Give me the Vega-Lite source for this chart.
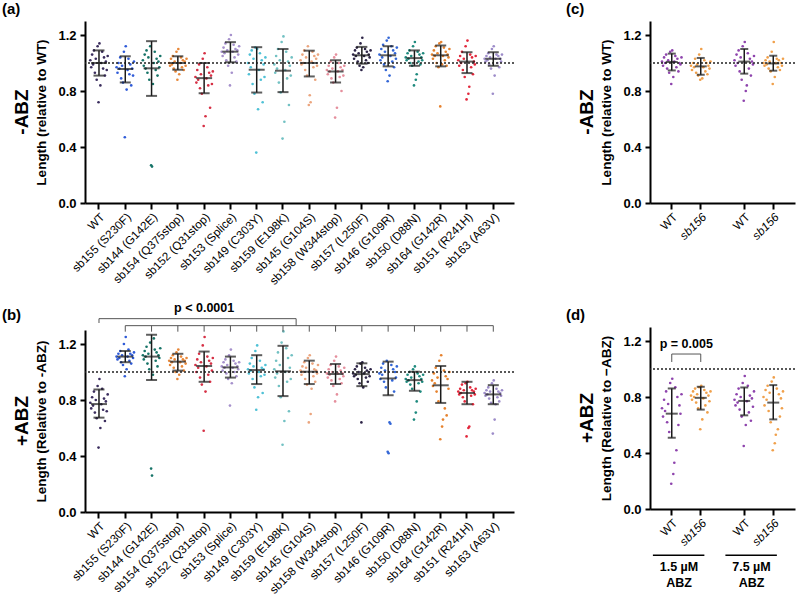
{
"$schema":"https://vega.github.io/schema/vega-lite/v6.json",
"padding":{"left":1,"top":2,"right":0,"bottom":0},
"config":{
 "view":{"stroke":null},
 "font":"Liberation Sans",
 "axis":{"domainColor":"#000","domainWidth":2,"tickColor":"#000","tickWidth":2,"grid":false,"labelColor":"#000","titleColor":"#000","labelFont":"Liberation Sans","titleFont":"Liberation Sans"},
 "axisX":{"labelAngle":-45,"labelFontSize":11.7,"tickSize":6,"labelPadding":2,"labelFontWeight":"normal"},
 "axisY":{"labelFontSize":13,"labelFontWeight":"bold","tickSize":5,"labelPadding":4,"titleFontSize":13.5,"titleFontWeight":"bold","titlePadding":9,"labelOverlap":false},
 "title":{"font":"Liberation Sans","fontWeight":"bold","color":"#000","anchor":"start","fontSize":15,"offset":0}
},
"datasets":{
"a":[
{"g":0,"v":1.02},{"g":0,"v":0.97},{"g":0,"v":1.06},{"g":0,"v":0.99},{"g":0,"v":1.09},{"g":0,"v":0.93},{"g":0,"v":1.03},{"g":0,"v":0.88},{"g":0,"v":1.12},{"g":0,"v":0.72},{"g":0,"v":1.14},{"g":0,"v":0.84},{"g":0,"v":1.00},{"g":0,"v":1.08},{"g":0,"v":0.96},{"g":0,"v":1.04},{"g":0,"v":0.91},{"g":0,"v":1.01},{"g":0,"v":0.95},{"g":0,"v":1.05},
{"g":1,"v":0.97},{"g":1,"v":0.93},{"g":1,"v":1.00},{"g":1,"v":0.96},{"g":1,"v":1.04},{"g":1,"v":0.89},{"g":1,"v":0.98},{"g":1,"v":0.86},{"g":1,"v":1.08},{"g":1,"v":0.47},{"g":1,"v":1.12},{"g":1,"v":0.81},{"g":1,"v":0.95},{"g":1,"v":1.03},{"g":1,"v":0.92},{"g":1,"v":0.99},{"g":1,"v":0.84},{"g":1,"v":0.96},{"g":1,"v":0.91},{"g":1,"v":1.01},
{"g":2,"v":1.02},{"g":2,"v":0.98},{"g":2,"v":1.06},{"g":2,"v":0.96},{"g":2,"v":1.09},{"g":2,"v":0.93},{"g":2,"v":1.04},{"g":2,"v":0.88},{"g":2,"v":1.12},{"g":2,"v":0.27},{"g":2,"v":0.26},{"g":2,"v":0.85},{"g":2,"v":1.00},{"g":2,"v":1.08},{"g":2,"v":0.95},{"g":2,"v":1.03},{"g":2,"v":0.91},{"g":2,"v":1.01},{"g":2,"v":0.97},{"g":2,"v":1.05},
{"g":3,"v":1.00},{"g":3,"v":0.98},{"g":3,"v":1.03},{"g":3,"v":0.99},{"g":3,"v":1.05},{"g":3,"v":0.96},{"g":3,"v":1.01},{"g":3,"v":0.94},{"g":3,"v":1.08},{"g":3,"v":0.88},{"g":3,"v":1.10},{"g":3,"v":0.92},{"g":3,"v":1.00},{"g":3,"v":1.04},{"g":3,"v":0.97},{"g":3,"v":1.02},{"g":3,"v":0.95},{"g":3,"v":1.01},{"g":3,"v":0.98},{"g":3,"v":1.03},
{"g":4,"v":0.90},{"g":4,"v":0.86},{"g":4,"v":0.95},{"g":4,"v":0.88},{"g":4,"v":0.99},{"g":4,"v":0.82},{"g":4,"v":0.92},{"g":4,"v":0.78},{"g":4,"v":1.03},{"g":4,"v":0.55},{"g":4,"v":1.07},{"g":4,"v":0.62},{"g":4,"v":0.89},{"g":4,"v":0.97},{"g":4,"v":0.84},{"g":4,"v":0.93},{"g":4,"v":0.68},{"g":4,"v":0.91},{"g":4,"v":0.85},{"g":4,"v":0.94},
{"g":5,"v":1.08},{"g":5,"v":1.05},{"g":5,"v":1.11},{"g":5,"v":1.07},{"g":5,"v":1.14},{"g":5,"v":1.02},{"g":5,"v":1.09},{"g":5,"v":0.98},{"g":5,"v":1.17},{"g":5,"v":0.84},{"g":5,"v":1.20},{"g":5,"v":0.93},{"g":5,"v":1.08},{"g":5,"v":1.13},{"g":5,"v":1.04},{"g":5,"v":1.10},{"g":5,"v":1.01},{"g":5,"v":1.09},{"g":5,"v":1.06},{"g":5,"v":1.12},
{"g":6,"v":1.00},{"g":6,"v":0.92},{"g":6,"v":1.06},{"g":6,"v":0.97},{"g":6,"v":1.09},{"g":6,"v":0.85},{"g":6,"v":1.03},{"g":6,"v":0.78},{"g":6,"v":1.11},{"g":6,"v":0.36},{"g":6,"v":1.10},{"g":6,"v":0.67},{"g":6,"v":0.95},{"g":6,"v":1.07},{"g":6,"v":0.88},{"g":6,"v":1.02},{"g":6,"v":0.72},{"g":6,"v":0.99},{"g":6,"v":0.90},{"g":6,"v":1.04},
{"g":7,"v":0.99},{"g":7,"v":0.93},{"g":7,"v":1.05},{"g":7,"v":0.96},{"g":7,"v":1.10},{"g":7,"v":0.86},{"g":7,"v":1.02},{"g":7,"v":0.79},{"g":7,"v":1.15},{"g":7,"v":0.46},{"g":7,"v":1.19},{"g":7,"v":0.58},{"g":7,"v":0.95},{"g":7,"v":1.08},{"g":7,"v":0.89},{"g":7,"v":1.01},{"g":7,"v":0.70},{"g":7,"v":0.98},{"g":7,"v":0.91},{"g":7,"v":1.04},
{"g":8,"v":1.02},{"g":8,"v":0.99},{"g":8,"v":1.06},{"g":8,"v":1.00},{"g":8,"v":1.09},{"g":8,"v":0.95},{"g":8,"v":1.04},{"g":8,"v":0.91},{"g":8,"v":1.12},{"g":8,"v":0.70},{"g":8,"v":0.77},{"g":8,"v":0.72},{"g":8,"v":1.01},{"g":8,"v":1.08},{"g":8,"v":0.97},{"g":8,"v":1.05},{"g":8,"v":0.88},{"g":8,"v":1.03},{"g":8,"v":0.98},{"g":8,"v":1.06},
{"g":9,"v":0.95},{"g":9,"v":0.92},{"g":9,"v":0.98},{"g":9,"v":0.94},{"g":9,"v":1.01},{"g":9,"v":0.89},{"g":9,"v":0.96},{"g":9,"v":0.86},{"g":9,"v":1.04},{"g":9,"v":0.61},{"g":9,"v":1.06},{"g":9,"v":0.68},{"g":9,"v":0.94},{"g":9,"v":1.00},{"g":9,"v":0.90},{"g":9,"v":0.97},{"g":9,"v":0.80},{"g":9,"v":0.95},{"g":9,"v":0.91},{"g":9,"v":0.98},
{"g":10,"v":1.06},{"g":10,"v":1.03},{"g":10,"v":1.09},{"g":10,"v":1.05},{"g":10,"v":1.11},{"g":10,"v":1.01},{"g":10,"v":1.07},{"g":10,"v":0.98},{"g":10,"v":1.14},{"g":10,"v":0.95},{"g":10,"v":1.18},{"g":10,"v":0.97},{"g":10,"v":1.05},{"g":10,"v":1.10},{"g":10,"v":1.02},{"g":10,"v":1.08},{"g":10,"v":1.00},{"g":10,"v":1.06},{"g":10,"v":1.04},{"g":10,"v":1.09},
{"g":11,"v":1.06},{"g":11,"v":1.02},{"g":11,"v":1.10},{"g":11,"v":1.04},{"g":11,"v":1.13},{"g":11,"v":0.99},{"g":11,"v":1.08},{"g":11,"v":0.95},{"g":11,"v":1.16},{"g":11,"v":0.87},{"g":11,"v":1.18},{"g":11,"v":0.91},{"g":11,"v":1.05},{"g":11,"v":1.12},{"g":11,"v":1.01},{"g":11,"v":1.09},{"g":11,"v":0.97},{"g":11,"v":1.07},{"g":11,"v":1.03},{"g":11,"v":1.11},
{"g":12,"v":1.04},{"g":12,"v":1.02},{"g":12,"v":1.07},{"g":12,"v":1.03},{"g":12,"v":1.09},{"g":12,"v":1.00},{"g":12,"v":1.05},{"g":12,"v":0.98},{"g":12,"v":1.12},{"g":12,"v":0.84},{"g":12,"v":1.15},{"g":12,"v":0.88},{"g":12,"v":0.92},{"g":12,"v":1.08},{"g":12,"v":1.01},{"g":12,"v":1.06},{"g":12,"v":0.99},{"g":12,"v":1.04},{"g":12,"v":1.02},{"g":12,"v":1.07},
{"g":13,"v":1.06},{"g":13,"v":1.03},{"g":13,"v":1.09},{"g":13,"v":1.05},{"g":13,"v":1.12},{"g":13,"v":1.00},{"g":13,"v":1.07},{"g":13,"v":0.97},{"g":13,"v":1.14},{"g":13,"v":0.69},{"g":13,"v":1.15},{"g":13,"v":0.99},{"g":13,"v":1.05},{"g":13,"v":1.11},{"g":13,"v":1.02},{"g":13,"v":1.08},{"g":13,"v":0.98},{"g":13,"v":1.06},{"g":13,"v":1.04},{"g":13,"v":1.10},
{"g":14,"v":1.02},{"g":14,"v":0.98},{"g":14,"v":1.05},{"g":14,"v":1.00},{"g":14,"v":1.08},{"g":14,"v":0.95},{"g":14,"v":1.03},{"g":14,"v":0.90},{"g":14,"v":1.12},{"g":14,"v":0.74},{"g":14,"v":1.16},{"g":14,"v":0.78},{"g":14,"v":0.83},{"g":14,"v":1.06},{"g":14,"v":0.97},{"g":14,"v":1.04},{"g":14,"v":0.92},{"g":14,"v":1.01},{"g":14,"v":0.99},{"g":14,"v":1.05},
{"g":15,"v":1.03},{"g":15,"v":1.01},{"g":15,"v":1.05},{"g":15,"v":1.02},{"g":15,"v":1.07},{"g":15,"v":0.99},{"g":15,"v":1.04},{"g":15,"v":0.96},{"g":15,"v":1.10},{"g":15,"v":0.78},{"g":15,"v":1.12},{"g":15,"v":0.91},{"g":15,"v":1.03},{"g":15,"v":1.06},{"g":15,"v":1.00},{"g":15,"v":1.05},{"g":15,"v":0.97},{"g":15,"v":1.03},{"g":15,"v":1.01},{"g":15,"v":1.06}
],
"b":[
{"g":0,"v":0.78},{"g":0,"v":0.74},{"g":0,"v":0.82},{"g":0,"v":0.76},{"g":0,"v":0.86},{"g":0,"v":0.71},{"g":0,"v":0.80},{"g":0,"v":0.67},{"g":0,"v":0.90},{"g":0,"v":0.46},{"g":0,"v":0.95},{"g":0,"v":0.60},{"g":0,"v":0.77},{"g":0,"v":0.88},{"g":0,"v":0.73},{"g":0,"v":0.81},{"g":0,"v":0.65},{"g":0,"v":0.79},{"g":0,"v":0.72},{"g":0,"v":0.84},
{"g":1,"v":1.11},{"g":1,"v":1.09},{"g":1,"v":1.13},{"g":1,"v":1.10},{"g":1,"v":1.15},{"g":1,"v":1.07},{"g":1,"v":1.12},{"g":1,"v":1.05},{"g":1,"v":1.20},{"g":1,"v":0.97},{"g":1,"v":1.25},{"g":1,"v":1.02},{"g":1,"v":1.11},{"g":1,"v":1.16},{"g":1,"v":1.08},{"g":1,"v":1.13},{"g":1,"v":1.06},{"g":1,"v":1.12},{"g":1,"v":1.10},{"g":1,"v":1.14},
{"g":2,"v":1.12},{"g":2,"v":1.09},{"g":2,"v":1.15},{"g":2,"v":1.11},{"g":2,"v":1.18},{"g":2,"v":1.06},{"g":2,"v":1.13},{"g":2,"v":1.02},{"g":2,"v":1.21},{"g":2,"v":0.31},{"g":2,"v":0.26},{"g":2,"v":0.98},{"g":2,"v":1.24},{"g":2,"v":1.16},{"g":2,"v":1.08},{"g":2,"v":1.14},{"g":2,"v":1.04},{"g":2,"v":1.12},{"g":2,"v":1.10},{"g":2,"v":1.17},
{"g":3,"v":1.08},{"g":3,"v":1.05},{"g":3,"v":1.10},{"g":3,"v":1.07},{"g":3,"v":1.12},{"g":3,"v":1.03},{"g":3,"v":1.09},{"g":3,"v":1.00},{"g":3,"v":1.14},{"g":3,"v":0.95},{"g":3,"v":1.16},{"g":3,"v":0.98},{"g":3,"v":1.07},{"g":3,"v":1.11},{"g":3,"v":1.04},{"g":3,"v":1.09},{"g":3,"v":1.01},{"g":3,"v":1.08},{"g":3,"v":1.06},{"g":3,"v":1.10},
{"g":4,"v":1.05},{"g":4,"v":1.00},{"g":4,"v":1.09},{"g":4,"v":1.03},{"g":4,"v":1.13},{"g":4,"v":0.96},{"g":4,"v":1.07},{"g":4,"v":0.91},{"g":4,"v":1.19},{"g":4,"v":0.58},{"g":4,"v":1.25},{"g":4,"v":0.86},{"g":4,"v":1.04},{"g":4,"v":1.11},{"g":4,"v":0.98},{"g":4,"v":1.08},{"g":4,"v":0.93},{"g":4,"v":1.06},{"g":4,"v":1.01},{"g":4,"v":1.10},
{"g":5,"v":1.04},{"g":5,"v":1.01},{"g":5,"v":1.07},{"g":5,"v":1.03},{"g":5,"v":1.09},{"g":5,"v":0.99},{"g":5,"v":1.05},{"g":5,"v":0.95},{"g":5,"v":1.12},{"g":5,"v":0.76},{"g":5,"v":1.16},{"g":5,"v":0.92},{"g":5,"v":1.03},{"g":5,"v":1.08},{"g":5,"v":1.00},{"g":5,"v":1.06},{"g":5,"v":0.97},{"g":5,"v":1.04},{"g":5,"v":1.02},{"g":5,"v":1.07},
{"g":6,"v":1.02},{"g":6,"v":0.99},{"g":6,"v":1.06},{"g":6,"v":1.01},{"g":6,"v":1.10},{"g":6,"v":0.95},{"g":6,"v":1.04},{"g":6,"v":0.89},{"g":6,"v":1.15},{"g":6,"v":0.73},{"g":6,"v":1.19},{"g":6,"v":0.82},{"g":6,"v":1.00},{"g":6,"v":1.08},{"g":6,"v":0.97},{"g":6,"v":1.03},{"g":6,"v":0.85},{"g":6,"v":1.02},{"g":6,"v":0.98},{"g":6,"v":1.05},
{"g":7,"v":1.02},{"g":7,"v":0.96},{"g":7,"v":1.08},{"g":7,"v":0.99},{"g":7,"v":1.14},{"g":7,"v":0.90},{"g":7,"v":1.05},{"g":7,"v":0.82},{"g":7,"v":1.21},{"g":7,"v":0.48},{"g":7,"v":1.29},{"g":7,"v":0.65},{"g":7,"v":1.00},{"g":7,"v":1.17},{"g":7,"v":0.93},{"g":7,"v":1.10},{"g":7,"v":0.72},{"g":7,"v":1.03},{"g":7,"v":0.95},{"g":7,"v":1.12},
{"g":8,"v":1.01},{"g":8,"v":0.98},{"g":8,"v":1.04},{"g":8,"v":1.00},{"g":8,"v":1.07},{"g":8,"v":0.95},{"g":8,"v":1.03},{"g":8,"v":0.91},{"g":8,"v":1.10},{"g":8,"v":0.64},{"g":8,"v":1.12},{"g":8,"v":0.70},{"g":8,"v":0.88},{"g":8,"v":1.06},{"g":8,"v":0.97},{"g":8,"v":1.02},{"g":8,"v":0.93},{"g":8,"v":1.01},{"g":8,"v":0.99},{"g":8,"v":1.05},
{"g":9,"v":0.99},{"g":9,"v":0.96},{"g":9,"v":1.02},{"g":9,"v":0.98},{"g":9,"v":1.05},{"g":9,"v":0.94},{"g":9,"v":1.00},{"g":9,"v":0.90},{"g":9,"v":1.08},{"g":9,"v":0.79},{"g":9,"v":1.11},{"g":9,"v":0.84},{"g":9,"v":0.99},{"g":9,"v":1.04},{"g":9,"v":0.95},{"g":9,"v":1.01},{"g":9,"v":0.92},{"g":9,"v":0.99},{"g":9,"v":0.97},{"g":9,"v":1.03},
{"g":10,"v":0.99},{"g":10,"v":0.97},{"g":10,"v":1.02},{"g":10,"v":0.98},{"g":10,"v":1.04},{"g":10,"v":0.95},{"g":10,"v":1.00},{"g":10,"v":0.92},{"g":10,"v":1.06},{"g":10,"v":0.64},{"g":10,"v":1.07},{"g":10,"v":0.89},{"g":10,"v":0.99},{"g":10,"v":1.03},{"g":10,"v":0.96},{"g":10,"v":1.01},{"g":10,"v":0.93},{"g":10,"v":1.00},{"g":10,"v":0.97},{"g":10,"v":1.02},
{"g":11,"v":0.99},{"g":11,"v":0.95},{"g":11,"v":1.03},{"g":11,"v":0.98},{"g":11,"v":1.06},{"g":11,"v":0.93},{"g":11,"v":1.01},{"g":11,"v":0.89},{"g":11,"v":1.08},{"g":11,"v":0.43},{"g":11,"v":0.42},{"g":11,"v":0.64},{"g":11,"v":0.63},{"g":11,"v":1.05},{"g":11,"v":0.94},{"g":11,"v":1.02},{"g":11,"v":0.86},{"g":11,"v":1.00},{"g":11,"v":0.96},{"g":11,"v":1.04},
{"g":12,"v":0.95},{"g":12,"v":0.93},{"g":12,"v":0.98},{"g":12,"v":0.94},{"g":12,"v":1.00},{"g":12,"v":0.91},{"g":12,"v":0.96},{"g":12,"v":0.88},{"g":12,"v":1.02},{"g":12,"v":0.66},{"g":12,"v":1.04},{"g":12,"v":0.71},{"g":12,"v":0.79},{"g":12,"v":0.99},{"g":12,"v":0.92},{"g":12,"v":0.97},{"g":12,"v":0.86},{"g":12,"v":0.95},{"g":12,"v":0.93},{"g":12,"v":0.98},
{"g":13,"v":0.94},{"g":13,"v":0.90},{"g":13,"v":0.99},{"g":13,"v":0.92},{"g":13,"v":1.03},{"g":13,"v":0.86},{"g":13,"v":0.96},{"g":13,"v":0.79},{"g":13,"v":1.08},{"g":13,"v":0.52},{"g":13,"v":1.12},{"g":13,"v":0.61},{"g":13,"v":0.66},{"g":13,"v":1.01},{"g":13,"v":0.74},{"g":13,"v":0.97},{"g":13,"v":0.69},{"g":13,"v":0.95},{"g":13,"v":0.88},{"g":13,"v":1.00},
{"g":14,"v":0.86},{"g":14,"v":0.84},{"g":14,"v":0.88},{"g":14,"v":0.85},{"g":14,"v":0.91},{"g":14,"v":0.82},{"g":14,"v":0.87},{"g":14,"v":0.79},{"g":14,"v":0.92},{"g":14,"v":0.54},{"g":14,"v":0.93},{"g":14,"v":0.60},{"g":14,"v":0.61},{"g":14,"v":0.89},{"g":14,"v":0.83},{"g":14,"v":0.87},{"g":14,"v":0.77},{"g":14,"v":0.86},{"g":14,"v":0.84},{"g":14,"v":0.88},
{"g":15,"v":0.85},{"g":15,"v":0.83},{"g":15,"v":0.87},{"g":15,"v":0.84},{"g":15,"v":0.89},{"g":15,"v":0.81},{"g":15,"v":0.86},{"g":15,"v":0.78},{"g":15,"v":0.92},{"g":15,"v":0.56},{"g":15,"v":0.94},{"g":15,"v":0.66},{"g":15,"v":0.77},{"g":15,"v":0.88},{"g":15,"v":0.82},{"g":15,"v":0.86},{"g":15,"v":0.79},{"g":15,"v":0.85},{"g":15,"v":0.83},{"g":15,"v":0.87}
],
"c":[
{"g":1,"v":1.01},{"g":1,"v":0.98},{"g":1,"v":1.04},{"g":1,"v":1.00},{"g":1,"v":1.06},{"g":1,"v":0.96},{"g":1,"v":1.02},{"g":1,"v":0.93},{"g":1,"v":1.08},{"g":1,"v":0.85},{"g":1,"v":1.09},{"g":1,"v":0.90},{"g":1,"v":1.01},{"g":1,"v":1.05},{"g":1,"v":0.97},{"g":1,"v":1.03},{"g":1,"v":0.94},{"g":1,"v":1.00},{"g":1,"v":0.99},{"g":1,"v":1.04},
{"g":3,"v":0.98},{"g":3,"v":0.95},{"g":3,"v":1.00},{"g":3,"v":0.97},{"g":3,"v":1.03},{"g":3,"v":0.93},{"g":3,"v":0.99},{"g":3,"v":0.91},{"g":3,"v":1.06},{"g":3,"v":0.88},{"g":3,"v":1.10},{"g":3,"v":0.89},{"g":3,"v":0.97},{"g":3,"v":1.02},{"g":3,"v":0.94},{"g":3,"v":1.00},{"g":3,"v":0.92},{"g":3,"v":0.98},{"g":3,"v":0.96},{"g":3,"v":1.01},
{"g":6,"v":1.02},{"g":6,"v":0.98},{"g":6,"v":1.06},{"g":6,"v":1.00},{"g":6,"v":1.09},{"g":6,"v":0.94},{"g":6,"v":1.04},{"g":6,"v":0.88},{"g":6,"v":1.12},{"g":6,"v":0.73},{"g":6,"v":1.15},{"g":6,"v":0.80},{"g":6,"v":0.84},{"g":6,"v":1.07},{"g":6,"v":0.96},{"g":6,"v":1.03},{"g":6,"v":0.91},{"g":6,"v":1.01},{"g":6,"v":0.99},{"g":6,"v":1.05},
{"g":8,"v":1.00},{"g":8,"v":0.98},{"g":8,"v":1.02},{"g":8,"v":0.99},{"g":8,"v":1.04},{"g":8,"v":0.96},{"g":8,"v":1.01},{"g":8,"v":0.94},{"g":8,"v":1.08},{"g":8,"v":0.85},{"g":8,"v":1.15},{"g":8,"v":0.90},{"g":8,"v":1.00},{"g":8,"v":1.03},{"g":8,"v":0.97},{"g":8,"v":1.02},{"g":8,"v":0.95},{"g":8,"v":1.00},{"g":8,"v":0.98},{"g":8,"v":1.03}
],
"d":[
{"g":1,"v":0.72},{"g":1,"v":0.66},{"g":1,"v":0.78},{"g":1,"v":0.70},{"g":1,"v":0.84},{"g":1,"v":0.62},{"g":1,"v":0.75},{"g":1,"v":0.55},{"g":1,"v":0.90},{"g":1,"v":0.18},{"g":1,"v":0.93},{"g":1,"v":0.25},{"g":1,"v":0.33},{"g":1,"v":0.87},{"g":1,"v":0.42},{"g":1,"v":0.80},{"g":1,"v":0.60},{"g":1,"v":0.74},{"g":1,"v":0.68},{"g":1,"v":0.82},
{"g":3,"v":0.81},{"g":3,"v":0.78},{"g":3,"v":0.84},{"g":3,"v":0.80},{"g":3,"v":0.86},{"g":3,"v":0.76},{"g":3,"v":0.82},{"g":3,"v":0.72},{"g":3,"v":0.87},{"g":3,"v":0.57},{"g":3,"v":0.88},{"g":3,"v":0.64},{"g":3,"v":0.79},{"g":3,"v":0.85},{"g":3,"v":0.74},{"g":3,"v":0.83},{"g":3,"v":0.69},{"g":3,"v":0.81},{"g":3,"v":0.77},{"g":3,"v":0.84},
{"g":6,"v":0.78},{"g":6,"v":0.74},{"g":6,"v":0.82},{"g":6,"v":0.76},{"g":6,"v":0.86},{"g":6,"v":0.71},{"g":6,"v":0.80},{"g":6,"v":0.66},{"g":6,"v":0.90},{"g":6,"v":0.45},{"g":6,"v":0.95},{"g":6,"v":0.60},{"g":6,"v":0.77},{"g":6,"v":0.88},{"g":6,"v":0.69},{"g":6,"v":0.81},{"g":6,"v":0.63},{"g":6,"v":0.79},{"g":6,"v":0.73},{"g":6,"v":0.84},
{"g":8,"v":0.80},{"g":8,"v":0.74},{"g":8,"v":0.85},{"g":8,"v":0.78},{"g":8,"v":0.88},{"g":8,"v":0.70},{"g":8,"v":0.83},{"g":8,"v":0.62},{"g":8,"v":0.91},{"g":8,"v":0.42},{"g":8,"v":0.94},{"g":8,"v":0.47},{"g":8,"v":0.53},{"g":8,"v":0.86},{"g":8,"v":0.57},{"g":8,"v":0.82},{"g":8,"v":0.66},{"g":8,"v":0.79},{"g":8,"v":0.72},{"g":8,"v":0.84}
],
"as":[
{"g":0,"m":1.0,"lo":0.91,"hi":1.09},{"g":1,"m":0.957,"lo":0.861,"hi":1.048},{"g":2,"m":0.962,"lo":0.765,"hi":1.156},{"g":3,"m":1.0,"lo":0.952,"hi":1.048},{"g":4,"m":0.892,"lo":0.784,"hi":1.0},{"g":5,"m":1.081,"lo":1.005,"hi":1.149},{"g":6,"m":0.952,"lo":0.789,"hi":1.113},{"g":7,"m":0.945,"lo":0.792,"hi":1.1},{"g":8,"m":1.0,"lo":0.904,"hi":1.088},{"g":9,"m":0.94,"lo":0.86,"hi":1.02},{"g":10,"m":1.055,"lo":0.995,"hi":1.115},{"g":11,"m":1.055,"lo":0.976,"hi":1.12},{"g":12,"m":1.035,"lo":0.98,"hi":1.09},{"g":13,"m":1.055,"lo":0.976,"hi":1.125},{"g":14,"m":1.01,"lo":0.928,"hi":1.077},{"g":15,"m":1.03,"lo":0.98,"hi":1.077}
],
"bs":[
{"g":0,"m":0.771,"lo":0.674,"hi":0.875},{"g":1,"m":1.11,"lo":1.07,"hi":1.15},{"g":2,"m":1.11,"lo":0.943,"hi":1.266},{"g":3,"m":1.074,"lo":1.01,"hi":1.13},{"g":4,"m":1.043,"lo":0.93,"hi":1.146},{"g":5,"m":1.033,"lo":0.96,"hi":1.11},{"g":6,"m":1.014,"lo":0.914,"hi":1.12},{"g":7,"m":1.005,"lo":0.828,"hi":1.187},{"g":8,"m":1.002,"lo":0.914,"hi":1.081},{"g":9,"m":0.986,"lo":0.914,"hi":1.057},{"g":10,"m":0.985,"lo":0.899,"hi":1.062},{"g":11,"m":0.954,"lo":0.834,"hi":1.074},{"g":12,"m":0.942,"lo":0.866,"hi":1.002},{"g":13,"m":0.905,"lo":0.779,"hi":1.043},{"g":14,"m":0.85,"lo":0.77,"hi":0.93},{"g":15,"m":0.84,"lo":0.77,"hi":0.906}
],
"cs":[
{"g":1,"m":1.007,"lo":0.947,"hi":1.067},{"g":3,"m":0.976,"lo":0.916,"hi":1.036},{"g":6,"m":1.01,"lo":0.924,"hi":1.1},{"g":8,"m":0.997,"lo":0.945,"hi":1.052}
],
"ds":[
{"g":1,"m":0.681,"lo":0.509,"hi":0.861},{"g":3,"m":0.794,"lo":0.71,"hi":0.873},{"g":6,"m":0.772,"lo":0.669,"hi":0.868},{"g":8,"m":0.76,"lo":0.64,"hi":0.885}
]
},
"spacing":50,
"align":"none",
"resolve":{"scale":{"x":"independent","y":"independent","color":"independent","xOffset":"independent"},"axis":{"x":"independent","y":"independent"}},
"hconcat":[
{"spacing":14,"align":"none",
 "resolve":{"scale":{"x":"independent","y":"independent","color":"independent","xOffset":"independent"},"axis":{"x":"independent","y":"independent"}},
 "vconcat":[
 {"title":{"text":"(a)","frame":"bounds","dx":-11},
  "resolve":{"scale":{"x":"independent","y":"independent","color":"independent","xOffset":"independent"},"axis":{"x":"independent","y":"independent"}},
  "vconcat":[{
   "width":429,"height":182,
   "title":{"text":"-ABZ","orient":"left","anchor":"middle","frame":"group","fontSize":19,"offset":3},
   "layer":[
    {"data":{"name":"a"},"transform":[{"window":[{"op":"row_number","as":"i"}],"groupby":["g"]}],
     "mark":{"type":"circle","size":7,"opacity":1},
     "encoding":{
      "x":{"field":"g","type":"ordinal","scale":{"domain":[0,1,2,3,4,5,6,7,8,9,10,11,12,13,14,15],"paddingInner":0,"paddingOuter":0.16,"align":0.1},"axis":{"title":null,"labelExpr":"['WT','sb155 (S230F)','sb144 (G142E)','sb154 (Q375stop)','sb152 (Q31stop)','sb153 (Splice)','sb149 (C303Y)','sb159 (E198K)','sb145 (G104S)','sb158 (W344stop)','sb157 (L250F)','sb146 (G109R)','sb150 (D88N)','sb164 (G142R)','sb151 (R241H)','sb163 (A63V)'][datum.value]"}},
      "xOffset":{"field":"i","type":"ordinal","scale":{"range":[4,22.3]}},
      "y":{"field":"v","type":"quantitative","scale":{"domain":[0,1.3],"nice":false},"axis":{"title":"Length (relative to WT)","values":[0,0.2,0.4,0.6,0.8,1,1.2],"format":".1f"}},
      "color":{"field":"g","type":"nominal","scale":{"domain":[0,1,2,3,4,5,6,7,8,9,10,11,12,13,14,15],"range":["#3b2d5e","#2f5bd8","#177468","#e8883a","#d63045","#a691cc","#4fc1d6","#72c1c3","#eba57e","#e58f9d","#2d2447","#3366d6","#1e8a7e","#e6822e","#e2283c","#9d8cc9"]},"legend":null}
     }},
    {"data":{"values":[{}]},"mark":{"type":"rule","strokeDash":[2,2],"strokeWidth":1.5,"color":"#222"},"encoding":{"y":{"datum":1,"type":"quantitative","scale":{"domain":[0,1.3],"nice":false}}}},
    {"data":{"name":"as"},"mark":{"type":"rule","strokeWidth":1.5,"color":"#1a1a1a"},"encoding":{"x":{"field":"g","type":"ordinal"},"y":{"field":"lo","type":"quantitative","scale":{"domain":[0,1.3],"nice":false}},"y2":{"field":"hi"}}},
    {"data":{"name":"as"},"mark":{"type":"tick","size":16,"thickness":2,"color":"#1a1a1a"},"encoding":{"x":{"field":"g","type":"ordinal"},"y":{"field":"m","type":"quantitative","scale":{"domain":[0,1.3],"nice":false}}}},
    {"data":{"name":"as"},"mark":{"type":"tick","size":11,"thickness":2,"color":"#1a1a1a"},"encoding":{"x":{"field":"g","type":"ordinal"},"y":{"field":"lo","type":"quantitative","scale":{"domain":[0,1.3],"nice":false}}}},
    {"data":{"name":"as"},"mark":{"type":"tick","size":11,"thickness":2,"color":"#1a1a1a"},"encoding":{"x":{"field":"g","type":"ordinal"},"y":{"field":"hi","type":"quantitative","scale":{"domain":[0,1.3],"nice":false}}}}
   ]
  }]
 },
 {"title":{"text":"(b)","frame":"bounds","dx":-11,"dy":25},
  "resolve":{"scale":{"x":"independent","y":"independent","color":"independent","xOffset":"independent"},"axis":{"x":"independent","y":"independent"}},
  "vconcat":[{
   "width":429,"height":182,
   "title":{"text":"+ABZ","orient":"left","anchor":"middle","frame":"group","fontSize":19,"offset":3},
   "layer":[
    {"data":{"name":"b"},"transform":[{"window":[{"op":"row_number","as":"i"}],"groupby":["g"]}],
     "mark":{"type":"circle","size":7,"opacity":1},
     "encoding":{
      "x":{"field":"g","type":"ordinal","scale":{"domain":[0,1,2,3,4,5,6,7,8,9,10,11,12,13,14,15],"paddingInner":0,"paddingOuter":0.16,"align":0.1},"axis":{"title":null,"labelExpr":"['WT','sb155 (S230F)','sb144 (G142E)','sb154 (Q375stop)','sb152 (Q31stop)','sb153 (Splice)','sb149 (C303Y)','sb159 (E198K)','sb145 (G104S)','sb158 (W344stop)','sb157 (L250F)','sb146 (G109R)','sb150 (D88N)','sb164 (G142R)','sb151 (R241H)','sb163 (A63V)'][datum.value]"}},
      "xOffset":{"field":"i","type":"ordinal","scale":{"range":[4,22.3]}},
      "y":{"field":"v","type":"quantitative","scale":{"domain":[0,1.3],"nice":false},"axis":{"title":"Length (Relative to -ABZ)","values":[0,0.2,0.4,0.6,0.8,1,1.2],"format":".1f"}},
      "color":{"field":"g","type":"nominal","scale":{"domain":[0,1,2,3,4,5,6,7,8,9,10,11,12,13,14,15],"range":["#3b2d5e","#2f5bd8","#177468","#e8883a","#d63045","#a691cc","#4fc1d6","#72c1c3","#eba57e","#e58f9d","#2d2447","#3366d6","#1e8a7e","#e6822e","#e2283c","#9d8cc9"]},"legend":null}
     }},
    {"data":{"values":[{}]},"mark":{"type":"rule","strokeDash":[2,2],"strokeWidth":1.5,"color":"#222"},"encoding":{"y":{"datum":1,"type":"quantitative","scale":{"domain":[0,1.3],"nice":false}}}},
    {"data":{"name":"bs"},"mark":{"type":"rule","strokeWidth":1.5,"color":"#1a1a1a"},"encoding":{"x":{"field":"g","type":"ordinal"},"y":{"field":"lo","type":"quantitative","scale":{"domain":[0,1.3],"nice":false}},"y2":{"field":"hi"}}},
    {"data":{"name":"bs"},"mark":{"type":"tick","size":16,"thickness":2,"color":"#1a1a1a"},"encoding":{"x":{"field":"g","type":"ordinal"},"y":{"field":"m","type":"quantitative","scale":{"domain":[0,1.3],"nice":false}}}},
    {"data":{"name":"bs"},"mark":{"type":"tick","size":11,"thickness":2,"color":"#1a1a1a"},"encoding":{"x":{"field":"g","type":"ordinal"},"y":{"field":"lo","type":"quantitative","scale":{"domain":[0,1.3],"nice":false}}}},
    {"data":{"name":"bs"},"mark":{"type":"tick","size":11,"thickness":2,"color":"#1a1a1a"},"encoding":{"x":{"field":"g","type":"ordinal"},"y":{"field":"hi","type":"quantitative","scale":{"domain":[0,1.3],"nice":false}}}},
    {"data":{"values":[{"g":0,"b":7}]},"mark":{"type":"rule","strokeWidth":1,"color":"#555","clip":false},"encoding":{"x":{"field":"g","type":"ordinal"},"x2":{"field":"b","bandPosition":1},"y":{"datum":1.381,"type":"quantitative","scale":{"domain":[0,1.3],"nice":false}}}},
    {"data":{"values":[{"g":0}]},"mark":{"type":"rule","strokeWidth":1,"color":"#555","clip":false},"encoding":{"x":{"field":"g","type":"ordinal"},"y":{"datum":1.381,"type":"quantitative","scale":{"domain":[0,1.3],"nice":false}},"y2":{"datum":1.35}}},
    {"data":{"values":[{"g":7}]},"mark":{"type":"rule","strokeWidth":1,"color":"#555","clip":false},"encoding":{"x":{"field":"g","type":"ordinal","bandPosition":1},"y":{"datum":1.381,"type":"quantitative","scale":{"domain":[0,1.3],"nice":false}},"y2":{"datum":1.331}}},
    {"data":{"values":[{"g":1,"b":15}]},"mark":{"type":"rule","strokeWidth":1,"color":"#555","clip":false},"encoding":{"x":{"field":"g","type":"ordinal"},"x2":{"field":"b"},"y":{"datum":1.331,"type":"quantitative","scale":{"domain":[0,1.3],"nice":false}}}},
    {"data":{"values":[{"g":1},{"g":2},{"g":3},{"g":4},{"g":5},{"g":6},{"g":7},{"g":8},{"g":9},{"g":10},{"g":11},{"g":12},{"g":13},{"g":14},{"g":15}]},"mark":{"type":"rule","strokeWidth":1,"color":"#555","clip":false},"encoding":{"x":{"field":"g","type":"ordinal"},"y":{"datum":1.331,"type":"quantitative","scale":{"domain":[0,1.3],"nice":false}},"y2":{"datum":1.288}}},
    {"data":{"values":[{"g":4,"t":"p < 0.0001"}]},"mark":{"type":"text","font":"Liberation Sans","fontWeight":"bold","fontSize":12.5,"baseline":"middle","color":"#000","clip":false},"encoding":{"x":{"field":"g","type":"ordinal"},"y":{"datum":1.46,"type":"quantitative","scale":{"domain":[0,1.3],"nice":false}},"text":{"field":"t"}}}
   ]
  }]
 }
]},
{"spacing":66,"align":"none",
 "resolve":{"scale":{"x":"independent","y":"independent","color":"independent","xOffset":"independent"},"axis":{"x":"independent","y":"independent"}},
 "vconcat":[
 {"title":{"text":"(c)","frame":"bounds","dx":-12},
  "resolve":{"scale":{"x":"independent","y":"independent","color":"independent","xOffset":"independent"},"axis":{"x":"independent","y":"independent"}},
  "vconcat":[{
   "width":145,"height":182,
   "title":{"text":"-ABZ","orient":"left","anchor":"middle","frame":"group","fontSize":19,"offset":3},
   "layer":[
    {"data":{"name":"c"},"transform":[{"window":[{"op":"row_number","as":"i"}],"groupby":["g"]}],
     "mark":{"type":"circle","size":7,"opacity":1},
     "encoding":{
      "x":{"field":"g","type":"ordinal","scale":{"domain":[0,1,2,3,4,5,6,7,8,9],"paddingInner":0,"paddingOuter":0},"axis":{"title":null,"values":[1,3,6,8],"labelExpr":"datum.value==1||datum.value==6?'WT':'sb156'","labelFontStyle":{"condition":{"test":"datum.value==3||datum.value==8","value":"italic"},"value":"normal"}}},
      "xOffset":{"field":"i","type":"ordinal","scale":{"range":[-3,17.5]}},
      "y":{"field":"v","type":"quantitative","scale":{"domain":[0,1.3],"nice":false},"axis":{"title":"Length (relative to WT)","values":[0,0.2,0.4,0.6,0.8,1,1.2],"format":".1f"}},
      "color":{"field":"g","type":"nominal","scale":{"domain":[1,3,6,8],"range":["#8e44ad","#f0a04b","#8e44ad","#f0a04b"]},"legend":null}
     }},
    {"data":{"values":[{}]},"mark":{"type":"rule","strokeDash":[2,2],"strokeWidth":1.5,"color":"#222"},"encoding":{"y":{"datum":1,"type":"quantitative","scale":{"domain":[0,1.3],"nice":false}}}},
    {"data":{"name":"cs"},"mark":{"type":"rule","strokeWidth":1.5,"color":"#1a1a1a"},"encoding":{"x":{"field":"g","type":"ordinal"},"y":{"field":"lo","type":"quantitative","scale":{"domain":[0,1.3],"nice":false}},"y2":{"field":"hi"}}},
    {"data":{"name":"cs"},"mark":{"type":"tick","size":12,"thickness":2,"color":"#1a1a1a"},"encoding":{"x":{"field":"g","type":"ordinal"},"y":{"field":"m","type":"quantitative","scale":{"domain":[0,1.3],"nice":false}}}},
    {"data":{"name":"cs"},"mark":{"type":"tick","size":8,"thickness":2,"color":"#1a1a1a"},"encoding":{"x":{"field":"g","type":"ordinal"},"y":{"field":"lo","type":"quantitative","scale":{"domain":[0,1.3],"nice":false}}}},
    {"data":{"name":"cs"},"mark":{"type":"tick","size":8,"thickness":2,"color":"#1a1a1a"},"encoding":{"x":{"field":"g","type":"ordinal"},"y":{"field":"hi","type":"quantitative","scale":{"domain":[0,1.3],"nice":false}}}}
   ]
  }]
 },
 {"title":{"text":"(d)","frame":"bounds","dx":-12},
  "resolve":{"scale":{"x":"independent","y":"independent","color":"independent","xOffset":"independent"},"axis":{"x":"independent","y":"independent"}},
  "vconcat":[{
   "width":145,"height":182,
   "title":{"text":"+ABZ","orient":"left","anchor":"middle","frame":"group","fontSize":19,"offset":3},
   "layer":[
    {"data":{"name":"d"},"transform":[{"window":[{"op":"row_number","as":"i"}],"groupby":["g"]}],
     "mark":{"type":"circle","size":7,"opacity":1},
     "encoding":{
      "x":{"field":"g","type":"ordinal","scale":{"domain":[0,1,2,3,4,5,6,7,8,9],"paddingInner":0,"paddingOuter":0},"axis":{"title":null,"values":[1,3,6,8],"labelExpr":"datum.value==1||datum.value==6?'WT':'sb156'","labelFontStyle":{"condition":{"test":"datum.value==3||datum.value==8","value":"italic"},"value":"normal"}}},
      "xOffset":{"field":"i","type":"ordinal","scale":{"range":[-3,17.5]}},
      "y":{"field":"v","type":"quantitative","scale":{"domain":[0,1.3],"nice":false},"axis":{"title":"Length (Relative to −ABZ)","values":[0,0.2,0.4,0.6,0.8,1,1.2],"format":".1f"}},
      "color":{"field":"g","type":"nominal","scale":{"domain":[1,3,6,8],"range":["#8e44ad","#f0a04b","#8e44ad","#f0a04b"]},"legend":null}
     }},
    {"data":{"values":[{}]},"mark":{"type":"rule","strokeDash":[2,2],"strokeWidth":1.5,"color":"#222"},"encoding":{"y":{"datum":1,"type":"quantitative","scale":{"domain":[0,1.3],"nice":false}}}},
    {"data":{"name":"ds"},"mark":{"type":"rule","strokeWidth":1.5,"color":"#1a1a1a"},"encoding":{"x":{"field":"g","type":"ordinal"},"y":{"field":"lo","type":"quantitative","scale":{"domain":[0,1.3],"nice":false}},"y2":{"field":"hi"}}},
    {"data":{"name":"ds"},"mark":{"type":"tick","size":12,"thickness":2,"color":"#1a1a1a"},"encoding":{"x":{"field":"g","type":"ordinal"},"y":{"field":"m","type":"quantitative","scale":{"domain":[0,1.3],"nice":false}}}},
    {"data":{"name":"ds"},"mark":{"type":"tick","size":8,"thickness":2,"color":"#1a1a1a"},"encoding":{"x":{"field":"g","type":"ordinal"},"y":{"field":"lo","type":"quantitative","scale":{"domain":[0,1.3],"nice":false}}}},
    {"data":{"name":"ds"},"mark":{"type":"tick","size":8,"thickness":2,"color":"#1a1a1a"},"encoding":{"x":{"field":"g","type":"ordinal"},"y":{"field":"hi","type":"quantitative","scale":{"domain":[0,1.3],"nice":false}}}},
    {"data":{"values":[{"g":1,"b":3}]},"mark":{"type":"rule","strokeWidth":1,"color":"#555"},"encoding":{"x":{"field":"g","type":"ordinal"},"x2":{"field":"b"},"y":{"datum":1.107,"type":"quantitative","scale":{"domain":[0,1.3],"nice":false}}}},
    {"data":{"values":[{"g":1},{"g":3}]},"mark":{"type":"rule","strokeWidth":1,"color":"#555"},"encoding":{"x":{"field":"g","type":"ordinal"},"y":{"datum":1.107,"type":"quantitative","scale":{"domain":[0,1.3],"nice":false}},"y2":{"datum":1.05}}},
    {"data":{"values":[{"g":2,"t":"p = 0.005"}]},"mark":{"type":"text","font":"Liberation Sans","fontWeight":"bold","fontSize":12.5,"baseline":"middle","color":"#000"},"encoding":{"x":{"field":"g","type":"ordinal"},"y":{"datum":1.18,"type":"quantitative","scale":{"domain":[0,1.3],"nice":false}},"text":{"field":"t"}}},
    {"data":{"values":[{"g":0,"b":3},{"g":5,"b":8}]},"mark":{"type":"rule","strokeWidth":1.5,"color":"#000","clip":false},"encoding":{"x":{"field":"g","type":"ordinal","bandPosition":0.2},"x2":{"field":"b","bandPosition":0.75},"y":{"datum":-0.331,"type":"quantitative","scale":{"domain":[0,1.3],"nice":false}}}},
    {"data":{"values":[{"g":2,"t":"1.5 µM\nABZ"},{"g":7,"t":"7.5 µM\nABZ"}]},"mark":{"type":"text","font":"Liberation Sans","fontWeight":"bold","fontSize":12.5,"baseline":"top","lineBreak":"\n","lineHeight":16,"color":"#000","clip":false},"encoding":{"x":{"field":"g","type":"ordinal","bandPosition":0},"y":{"datum":-0.374,"type":"quantitative","scale":{"domain":[0,1.3],"nice":false}},"text":{"field":"t"}}}
   ]
  }]
 }
]}
]
}
